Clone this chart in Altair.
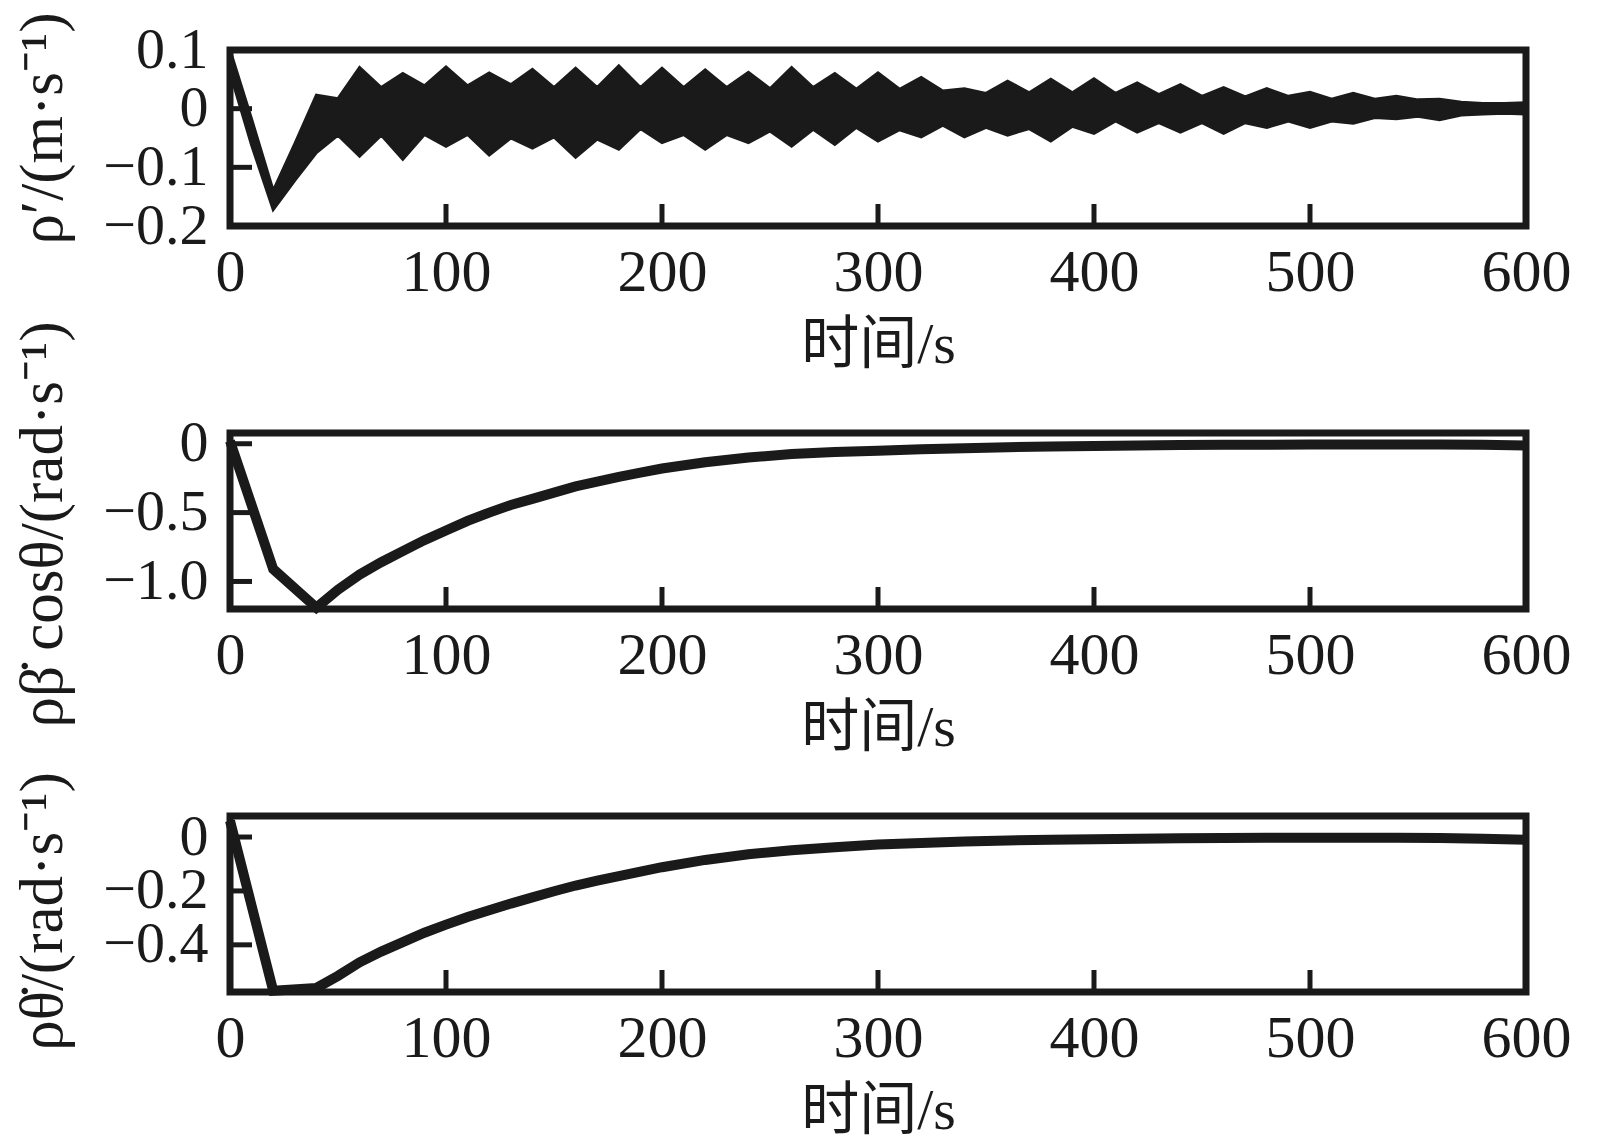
import altair as alt
import pandas as pd

# ---------------- data ----------------
T_RHO = list(range(0, 601, 10))
RHO_UPPER = [0.100, -0.018, -0.140, -0.060, 0.023, 0.017, 0.070, 0.036, 0.060, 0.039,
             0.071, 0.039, 0.061, 0.041, 0.067, 0.036, 0.069, 0.036, 0.073, 0.036,
             0.069, 0.036, 0.066, 0.036, 0.062, 0.034, 0.070, 0.036, 0.060, 0.033,
             0.061, 0.033, 0.053, 0.030, 0.034, 0.026, 0.047, 0.027, 0.050, 0.027,
             0.051, 0.026, 0.044, 0.024, 0.041, 0.021, 0.036, 0.020, 0.034, 0.021,
             0.028, 0.016, 0.026, 0.016, 0.021, 0.015, 0.016, 0.011, 0.009, 0.009,
             0.010]
RHO_LOWER = [0.062, -0.062, -0.172, -0.122, -0.075, -0.045, -0.081, -0.045, -0.086, -0.044,
             -0.064, -0.044, -0.079, -0.050, -0.067, -0.048, -0.083, -0.052, -0.069, -0.034,
             -0.058, -0.044, -0.069, -0.044, -0.058, -0.038, -0.064, -0.035, -0.061, -0.032,
             -0.055, -0.036, -0.048, -0.028, -0.048, -0.032, -0.045, -0.034, -0.055, -0.030,
             -0.042, -0.021, -0.040, -0.024, -0.040, -0.024, -0.042, -0.024, -0.032, -0.021,
             -0.032, -0.021, -0.025, -0.015, -0.017, -0.013, -0.019, -0.011, -0.009, -0.008,
             -0.009]

T_ANG = [0, 20, 40, 50, 60, 70, 80, 90, 100, 110, 120, 130, 140, 150, 160, 170, 180, 190,
         200, 220, 240, 260, 280, 300, 320, 340, 360, 380, 400, 420, 440, 460, 480, 500,
         520, 540, 560, 580, 600]
BETA = [0.02, -0.91, -1.19, -1.06, -0.95, -0.86, -0.78, -0.70, -0.63, -0.56,
        -0.50, -0.445, -0.40, -0.355, -0.31, -0.275, -0.24, -0.21,
        -0.18, -0.135, -0.10, -0.075, -0.06, -0.05, -0.04, -0.032, -0.025, -0.02,
        -0.016, -0.013, -0.010, -0.008, -0.007, -0.006, -0.005, -0.005, -0.005, -0.008,
        -0.012]
THETA = [0.06, -0.57, -0.56, -0.515, -0.465, -0.425, -0.39, -0.355, -0.325, -0.297,
         -0.272, -0.247, -0.224, -0.201, -0.18, -0.162, -0.145, -0.128,
         -0.112, -0.085, -0.064, -0.049, -0.038, -0.028, -0.022, -0.017, -0.013, -0.010,
         -0.008, -0.006, -0.005, -0.004, -0.003, -0.003, -0.003, -0.003, -0.004, -0.006,
         -0.010]

X_DOMAIN = [0, 600]
X_TICKS = [0, 100, 200, 300, 400, 500, 600]
X_INNER_TICKS = [100, 200, 300, 400, 500]
Y1_DOMAIN = [-0.2, 0.1]
Y2_DOMAIN = [-1.2, 0.078]
Y3_DOMAIN = [-0.575, 0.078]
Y1_TICKS = [0.1, 0, -0.1, -0.2]
Y2_TICKS = [0, -0.5, -1.0]
Y3_TICKS = [0, -0.2, -0.4]

X_TITLE = "时间/s"
Y1_TITLE = "ρ′/(m·s⁻¹)"
Y2_TITLE = "ρβ\u0307 cosθ/(rad·s⁻¹)"
Y3_TITLE = "ρθ\u0307/(rad·s⁻¹)"

# ---------------- style ----------------
INK = "#1a1a1a"
W, H = 1296, 176
FONT = "Liberation Serif"
TFONT = "Liberation Serif, Noto Sans CJK SC"
LABEL_EXPR = "datum.value == 0 ? '0' : format(datum.value, '.1f')"


def x_axis():
    return alt.Axis(values=X_TICKS, title=X_TITLE, grid=False, ticks=False, tickSize=0,
                    domain=False, labelFlush=False, labelOverlap=False,
                    labelFont=FONT, labelFontSize=60, labelColor=INK, labelPadding=17,
                    titleFont=TFONT, titleFontSize=58, titleColor=INK,
                    titleFontWeight="normal", titleBaseline="top", titleY=90)


def y_axis(ticks, title, title_y):
    return alt.Axis(values=ticks, labelExpr=LABEL_EXPR, title=title, grid=False,
                    ticks=False, tickSize=0, domain=False, labelOverlap=False,
                    labelFont=FONT, labelFontSize=58, labelColor=INK, labelPadding=22,
                    titleFont=TFONT, titleFontSize=61, titleColor=INK,
                    titleFontWeight="normal", titleAngle=270, titleAlign="center",
                    titleBaseline="middle", titleX=-187, titleY=title_y)


def panel(main_mark, y_main, y2_main, y_domain, y_ticks, y_title, title_y, data):
    xs = alt.Scale(domain=X_DOMAIN, nice=False, zero=False)
    ys = alt.Scale(domain=y_domain, nice=False, zero=False)
    xa = x_axis()
    ya = y_axis(y_ticks, y_title, title_y)
    enc = dict(x=alt.X("t:Q", scale=xs, axis=xa),
               y=alt.Y(y_main, scale=ys, axis=ya))
    if y2_main:
        enc["y2"] = y2_main
    if main_mark == "line":
        main = alt.Chart(data).mark_line(color=INK, strokeWidth=10).encode(**enc)
    else:
        main = alt.Chart(data).mark_area(color=INK, stroke=INK, strokeWidth=3).encode(**enc)
    xt = alt.Chart(pd.DataFrame({"t": X_INNER_TICKS})).mark_rule(
        color=INK, strokeWidth=5).encode(
        x=alt.X("t:Q", scale=xs, axis=xa),
        y=alt.value(H), y2=alt.value(H - 22))
    yt = alt.Chart(pd.DataFrame({"v": y_ticks})).mark_rule(
        color=INK, strokeWidth=5).encode(
        y=alt.Y("v:Q", scale=ys, axis=ya),
        x=alt.value(0), x2=alt.value(22))
    return alt.layer(main, xt, yt).properties(width=W, height=H)


df1 = pd.DataFrame({"t": T_RHO, "upper": RHO_UPPER, "lower": RHO_LOWER})
df2 = pd.DataFrame({"t": T_ANG, "v": BETA})
df3 = pd.DataFrame({"t": T_ANG, "v": THETA})

p1 = panel("area", "upper:Q", "lower:Q", Y1_DOMAIN, Y1_TICKS, Y1_TITLE, 78, df1)
p2 = panel("line", "v:Q", None, Y2_DOMAIN, Y2_TICKS, Y2_TITLE, 91, df2)
p3 = panel("line", "v:Q", None, Y3_DOMAIN, Y3_TICKS, Y3_TITLE, 95, df3)

chart = alt.vconcat(p1, p2, p3, spacing=207, bounds="flush").configure_view(
    stroke=INK, strokeWidth=7
).properties(
    padding={"left": 0, "top": 0, "right": 5, "bottom": 0},
    background="white"
)

chart.save("out.html", embed_options={"renderer": "svg", "actions": False})
